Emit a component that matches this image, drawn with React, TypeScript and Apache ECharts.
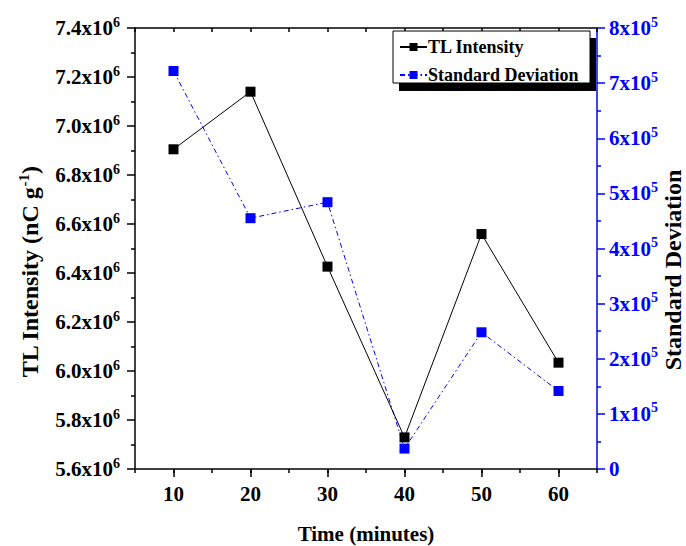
import React, { useEffect, useRef } from "react";
import * as echarts from "echarts";

const timeMinutes = [10, 20, 30, 40, 50, 60];
const tlIntensity = [6.905e6, 7.14e6, 6.426e6, 5.729e6, 6.559e6, 6.034e6];
const stdDeviation = [7.22e5, 4.55e5, 4.84e5, 0.37e5, 2.48e5, 1.415e5];
const xTickValues = [10, 20, 30, 40, 50, 60];

const FONT = "Liberation Serif";
const BLUE = "#0000ff";

export default function App() {
  const ref = useRef<HTMLDivElement>(null);
  useEffect(() => {
    if (!ref.current) return;
    const chart = echarts.init(ref.current, undefined, { renderer: "svg" });
    const supRich = (color: string) => ({
      a: { fontFamily: FONT, fontWeight: "bold", fontSize: 21, color },
      b: { fontFamily: FONT, fontWeight: "bold", fontSize: 14, color, padding: [0, 0, 12, 0] },
    });
    const option: any = {
      animation: false,
      backgroundColor: "#fff",
      grid: { left: 135, right: 89, top: 28, bottom: 77, containLabel: false },
      legend: {
        orient: "vertical",
        left: 399,
        top: 38,
        z: 100,
        itemWidth: 27,
        itemHeight: 10,
        itemGap: 10,
        padding: 0,
        textStyle: { fontFamily: FONT, fontWeight: "bold", fontSize: 18, color: "#000", padding: [0, 0, 0, -4] },
        data: ["TL Intensity", "Standard Deviation"],
      },
      graphic: [
        { type: "rect", z: 1, shape: { x: 399, y: 38, width: 197, height: 53 }, style: { fill: "#000" } },
        { type: "rect", z: 2, shape: { x: 393, y: 31, width: 197, height: 52 }, style: { fill: "#fff", stroke: "#000", lineWidth: 1 } },
        {
          type: "text",
          z: 5,
          x: 30,
          y: 272,
          rotation: Math.PI / 2,
          style: {
            text: "{a|TL Intensity (nC g}{b|-1}{a|)}",
            align: "center",
            verticalAlign: "middle",
            rich: {
              a: { fontFamily: FONT, fontWeight: "bold", fontSize: 24, fill: "#000" },
              b: { fontFamily: FONT, fontWeight: "bold", fontSize: 15, fill: "#000", padding: [0, 0, 12, 0] },
            },
          },
        },
        {
          type: "text",
          z: 5,
          x: 673,
          y: 270,
          rotation: Math.PI / 2,
          style: {
            text: "Standard Deviation",
            align: "center",
            verticalAlign: "middle",
            fontFamily: FONT,
            fontWeight: "bold",
            fontSize: 24,
            fill: "#000",
          },
        },
        {
          type: "text",
          z: 5,
          x: 366,
          y: 534,
          style: {
            text: "Time (minutes)",
            align: "center",
            verticalAlign: "middle",
            fontFamily: FONT,
            fontWeight: "bold",
            fontSize: 21,
            fill: "#000",
          },
        },
      ],
      xAxis: [
        {
          type: "value",
          position: "bottom",
          min: 5,
          max: 65,
          interval: 5,
          axisLine: { show: true, lineStyle: { color: "#000", width: 1.5 } },
          axisTick: { show: true, customValues: xTickValues, length: 8, lineStyle: { color: "#000", width: 1.5 } },
          axisLabel: {
            customValues: xTickValues,
            margin: 14,
            fontFamily: FONT,
            fontWeight: "bold",
            fontSize: 21,
            color: "#000",
          },
          splitLine: { show: false },
        },
        {
          type: "value",
          position: "bottom",
          min: 5,
          max: 65,
          interval: 5,
          axisLine: { show: false },
          axisTick: { show: true, length: 4, lineStyle: { color: "#000", width: 1.5 } },
          axisLabel: { show: false },
          splitLine: { show: false },
        },
        {
          type: "value",
          position: "top",
          min: 5,
          max: 65,
          interval: 5,
          axisLine: { show: true, lineStyle: { color: "#000", width: 1.5 } },
          axisTick: { show: true, inside: true, length: 4, lineStyle: { color: "#000", width: 1.5 } },
          axisLabel: { show: false },
          splitLine: { show: false },
        },
      ],
      yAxis: [
        {
          type: "value",
          position: "left",
          min: 5.6e6,
          max: 7.4e6,
          interval: 2e5,
          axisLine: { show: true, lineStyle: { color: "#000", width: 1.5 } },
          axisTick: { show: true, length: 8, lineStyle: { color: "#000", width: 1.5 } },
          minorTick: { show: true, splitNumber: 2, length: 4, lineStyle: { color: "#000", width: 1.5 } },
          axisLabel: {
            margin: 15,
            formatter: (v: number) => `{a|${(v / 1e6).toFixed(1)}x10}{b|6}`,
            rich: supRich("#000"),
          },
          splitLine: { show: false },
          minorSplitLine: { show: false },
        },
        {
          type: "value",
          position: "right",
          min: 0,
          max: 8e5,
          interval: 1e5,
          axisLine: { show: true, lineStyle: { color: BLUE, width: 1.5 } },
          axisTick: { show: true, length: 8, lineStyle: { color: BLUE, width: 1.5 } },
          minorTick: { show: true, splitNumber: 2, length: 4, lineStyle: { color: BLUE, width: 1.5 } },
          axisLabel: {
            margin: 12,
            formatter: (v: number) => (v === 0 ? "{a|0}" : `{a|${Math.round(v / 1e5)}x10}{b|5}`),
            rich: supRich(BLUE),
          },
          splitLine: { show: false },
          minorSplitLine: { show: false },
        },
      ],
      series: [
        {
          name: "Standard Deviation",
          type: "line",
          xAxisIndex: 0,
          yAxisIndex: 1,
          data: timeMinutes.map((t, i) => [t, stdDeviation[i]]),
          symbol: "rect",
          symbolSize: 10,
          itemStyle: { color: BLUE },
          lineStyle: { color: BLUE, width: 1, type: [5, 3, 1.5, 3] },
          z: 2,
        },
        {
          name: "TL Intensity",
          type: "line",
          xAxisIndex: 0,
          yAxisIndex: 0,
          data: timeMinutes.map((t, i) => [t, tlIntensity[i]]),
          symbol: "rect",
          symbolSize: 10,
          itemStyle: { color: "#000" },
          lineStyle: { color: "#000", width: 1 },
          z: 3,
        },
      ],
    };
    chart.setOption(option);
    return () => chart.dispose();
  }, []);
  return <div ref={ref} style={{ width: 686, height: 546, position: "absolute", left: 0, top: 0 }} />;
}
